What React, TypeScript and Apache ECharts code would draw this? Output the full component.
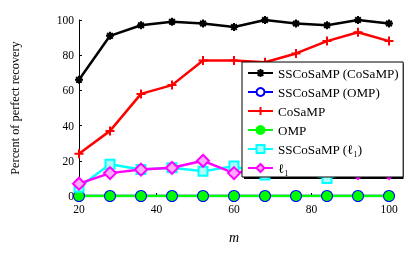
import React, { useEffect, useRef } from "react";
import * as echarts from "echarts";

const mValues = [20, 28, 36, 44, 52, 60, 68, 76, 84, 92, 100];
const ssCosampCosamp = [66, 91, 97, 99, 98, 96, 100, 98, 97, 100, 98];
const ssCosampOmp = [0, 0, 0, 0, 0, 0, 0, 0, 0, 0, 0];
const cosamp = [24, 37, 58, 63, 77, 77, 76, 81, 88, 93, 88];
const omp = [0, 0, 0, 0, 0, 0, 0, 0, 0, 0, 0];
const ssCosampL1 = [5, 18, 15, 16, 14, 17, 12, 14, 10, 15, 14];
const l1 = [7, 13, 15, 16, 20, 13, 16, 17, 15, 13, 13];

const xTicks = [20, 40, 60, 80, 100];
const yTicks = [0, 20, 40, 60, 80, 100];

const FONT = "'Liberation Serif', 'DejaVu Serif', serif";
const ASTERISK = "path://M-1,0L1,0M0,-1L0,1M-0.7,-0.7L0.7,0.7M-0.7,0.7L0.7,-0.7";
const PLUS = "path://M-1,0L1,0M0,-1L0,1";

const pairs = (ys: number[]) => mValues.map((x, i) => [x, ys[i]]);

export default function App() {
  const ref = useRef<HTMLDivElement>(null);
  useEffect(() => {
    if (!ref.current) return;
    const chart = echarts.init(ref.current, null, { renderer: "svg" });
    const mk = (name: string, data: number[], color: string, symbol: string, size: number, fill: string) => ({
      name,
      type: "line",
      data: pairs(data),
      symbol,
      symbolSize: size,
      lineStyle: { color, width: 2.5 },
      itemStyle: { color: fill, borderColor: color, borderWidth: 2 },
      emphasis: { disabled: true },
    });
    chart.setOption({
      animation: false,
      grid: { left: 79, top: 20, width: 310, height: 176 },
      xAxis: {
        type: "value",
        min: 20,
        max: 100,
        interval: 20,
        name: "m",
        nameLocation: "middle",
        nameGap: 34,
        nameTextStyle: { fontFamily: FONT, fontSize: 14, fontStyle: "italic", color: "#000" },
        axisLine: { show: true, lineStyle: { color: "#000", width: 1 } },
        axisTick: { show: true, inside: true, length: 3, lineStyle: { color: "#000" } },
        axisLabel: {
          color: "#000",
          fontFamily: FONT,
          fontSize: 11.5,
          margin: 7,
          formatter: (v: number) => (xTicks.includes(v) ? String(v) : ""),
        },
        splitLine: { show: false },
      },
      yAxis: {
        type: "value",
        min: 0,
        max: 100,
        interval: 20,
        name: "Percent of perfect recovery",
        nameLocation: "middle",
        nameGap: 58,
        nameTextStyle: { fontFamily: FONT, fontSize: 12.3, color: "#000" },
        axisLine: { show: true, lineStyle: { color: "#000", width: 1 } },
        axisTick: { show: true, inside: true, length: 3, lineStyle: { color: "#000" } },
        axisLabel: {
          color: "#000",
          fontFamily: FONT,
          fontSize: 11.5,
          margin: 5,
          formatter: (v: number) => (yTicks.includes(v) ? String(v) : ""),
        },
        splitLine: { show: false },
      },
      graphic: {
        z: 3,
        elements: [
          { type: "rect", z: 3, shape: { x: 244, y: 64, width: 159.5, height: 115 }, style: { fill: "#000" } },
        ],
      },
      legend: {
        orient: "vertical",
        left: 242,
        top: 62,
        padding: [4, 4, 2, 5],
        itemWidth: 25,
        itemHeight: 10,
        itemGap: 5,
        selectedMode: false,
        backgroundColor: "#fff",
        borderColor: "#000",
        borderWidth: 1,
        textStyle: { fontFamily: FONT, fontSize: 13.1, lineHeight: 14, color: "#000" },
        data: ["SSCoSaMP (CoSaMP)", "SSCoSaMP (OMP)", "CoSaMP", "OMP", "SSCoSaMP (ℓ₁)", "ℓ₁"],
      },
      series: [
        mk("SSCoSaMP (CoSaMP)", ssCosampCosamp, "#000000", ASTERISK, 8, "#000000"),
        mk("SSCoSaMP (OMP)", ssCosampOmp, "#0000ff", "circle", 10, "#ffffff"),
        mk("CoSaMP", cosamp, "#ff0000", PLUS, 9, "#ff0000"),
        mk("OMP", omp, "#00ff00", "circle", 8, "#00ff00"),
        mk("SSCoSaMP (ℓ₁)", ssCosampL1, "#00ffff", "rect", 9, "#aaffff"),
        mk("ℓ₁", l1, "#ff00ff", "diamond", 12, "#ffaaff"),
      ],
    });
    return () => chart.dispose();
  }, []);
  return <div ref={ref} style={{ position: "fixed", left: 0, top: 0, width: 415, height: 255 }} />;
}
